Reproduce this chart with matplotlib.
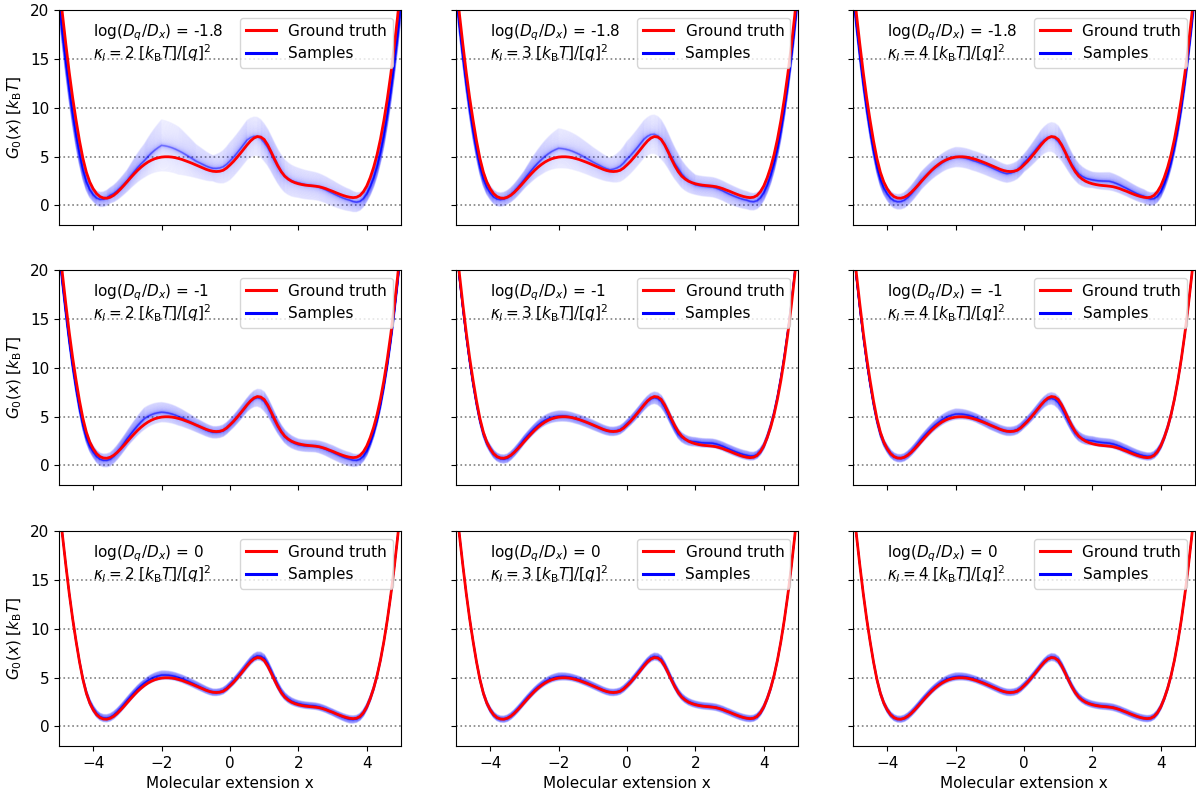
import numpy as np
import matplotlib.pyplot as plt
from matplotlib.lines import Line2D

# Ground truth free energy profile (step 0.1)
x = [-5.0, -4.9, -4.8, -4.7, -4.6, -4.5, -4.4, -4.3, -4.2, -4.1,
     -4.0, -3.9, -3.8, -3.7, -3.6, -3.5, -3.4, -3.3, -3.2, -3.1,
     -3.0, -2.9, -2.8, -2.7, -2.6, -2.5, -2.4, -2.3, -2.2, -2.1,
     -2.0, -1.9, -1.8, -1.7, -1.6, -1.5, -1.4, -1.3, -1.2, -1.1,
     -1.0, -0.9, -0.8, -0.7, -0.6, -0.5, -0.4, -0.3, -0.2, -0.1,
     0.0, 0.1, 0.2, 0.3, 0.4, 0.5, 0.6, 0.7, 0.8, 0.9,
     1.0, 1.1, 1.2, 1.3, 1.4, 1.5, 1.6, 1.7, 1.8, 1.9,
     2.0, 2.1, 2.2, 2.3, 2.4, 2.5, 2.6, 2.7, 2.8, 2.9,
     3.0, 3.1, 3.2, 3.3, 3.4, 3.5, 3.6, 3.7, 3.8, 3.9,
     4.0, 4.1, 4.2, 4.3, 4.4, 4.5, 4.6, 4.7, 4.8, 4.9, 5.0]
g_true = [23.0, 19.6, 16.5, 13.6, 11.0, 8.7, 6.6, 4.8, 3.4, 2.4,
          1.7, 1.2, 0.9, 0.76, 0.74, 0.84, 1.04, 1.33, 1.68, 2.06,
          2.46, 2.86, 3.24, 3.6, 3.92, 4.2, 4.44, 4.63, 4.78, 4.88,
          4.95, 4.98, 4.98, 4.95, 4.89, 4.8, 4.7, 4.57, 4.44, 4.3,
          4.15, 4.0, 3.85, 3.7, 3.58, 3.5, 3.47, 3.5, 3.6, 3.83,
          4.15, 4.5, 4.9, 5.32, 5.76, 6.2, 6.6, 6.9, 7.05, 7.0,
          6.75, 6.2, 5.5, 4.75, 4.05, 3.45, 3.0, 2.7, 2.48, 2.33,
          2.22, 2.14, 2.08, 2.04, 2.01, 1.97, 1.92, 1.83, 1.72, 1.58,
          1.45, 1.3, 1.16, 1.03, 0.92, 0.84, 0.8, 0.84, 1.02, 1.4,
          2.0, 2.85, 3.9, 5.2, 6.8, 8.7, 10.9, 13.4, 16.2, 19.3, 22.7]

log_ratio = ["-1.8", "-1", "0"]
kappa = ["2", "3", "4"]

# Sample bundle: shift from ground truth and half width, per panel
x_band = [-5, -4.5, -4, -3.5, -3, -2.5, -2, -1.5, -1, -0.5, 0,
          0.5, 1, 1.5, 2, 2.5, 3, 3.5, 4, 4.5, 5]

band_shift = [
    [[-2.0, -1.5, -0.6, 0.2, 0.1, 0.4, 1.2, 0.8, 0.4, 0.3, 0.4, 0.5, -0.3, 0.0, 0.1, 0.0, -0.2, -0.3, -0.8, -1.5, -2.0],
     [-1.2, -1.0, -0.4, 0.0, 0.2, 0.5, 0.9, 0.6, 0.3, 0.15, 0.6, 0.6, 0.0, 0.3, -0.1, -0.1, -0.3, -0.3, -0.7, -1.0, -1.2],
     [-1.2, -1.0, -0.5, -0.3, 0.1, -0.1, 0.0, -0.2, -0.2, -0.25, 0.2, 0.2, -0.2, 0.2, 0.4, 0.5, 0.3, 0.1, -0.6, -0.8, -1.0]],
    [[-1.0, -0.8, -0.3, -0.2, 0.3, 0.6, 0.5, 0.2, 0.0, -0.1, 0.0, 0.0, -0.2, 0.0, -0.1, 0.0, -0.1, -0.2, -0.5, -0.6, -0.7],
     [-0.5, -0.4, 0.0, -0.1, 0.2, 0.2, 0.1, 0.0, 0.0, 0.0, 0.1, 0.0, -0.2, -0.2, 0.2, 0.3, 0.2, 0.2, 0.0, 0.3, 0.3],
     [-0.5, -0.4, 0.0, 0.0, 0.2, 0.2, 0.3, 0.2, 0.0, 0.0, 0.1, 0.0, -0.3, -0.1, 0.3, 0.3, 0.2, 0.15, 0.0, 0.0, 0.0]],
    [[0.0, 0.0, 0.1, 0.1, 0.2, 0.25, 0.3, 0.2, 0.1, 0.0, 0.1, 0.1, 0.2, 0.1, 0.1, 0.1, 0.0, -0.1, 0.0, 0.0, 0.0],
     [0.0, 0.0, 0.0, 0.0, 0.1, 0.1, 0.15, 0.1, 0.05, 0.0, 0.05, 0.1, 0.1, 0.05, 0.05, 0.05, 0.0, 0.0, 0.0, 0.0, 0.0],
     [0.0, 0.0, 0.0, 0.0, 0.1, 0.1, 0.15, 0.1, 0.05, 0.0, 0.05, 0.05, 0.05, 0.05, 0.05, 0.05, 0.0, 0.0, 0.0, 0.0, 0.0]],
]
band_width = [
    [[1.5, 1.3, 0.7, 0.8, 1.1, 1.7, 2.6, 2.4, 1.7, 1.3, 1.9, 2.0, 1.9, 1.7, 1.5, 1.4, 1.3, 1.1, 0.8, 1.2, 1.5],
     [1.0, 1.0, 0.7, 0.7, 0.9, 1.5, 2.0, 1.8, 1.5, 1.2, 1.8, 1.9, 2.0, 1.5, 1.0, 1.0, 1.0, 0.9, 0.8, 1.0, 1.0],
     [0.8, 0.8, 0.7, 0.8, 0.9, 0.9, 1.0, 1.0, 1.0, 0.9, 0.9, 1.3, 1.6, 1.1, 0.8, 0.9, 0.8, 0.7, 0.6, 0.8, 0.8]],
    [[0.6, 0.6, 0.6, 0.7, 0.8, 1.1, 1.0, 0.9, 0.7, 0.6, 0.6, 0.7, 1.0, 0.7, 0.6, 0.6, 0.7, 0.7, 0.5, 0.5, 0.5],
     [0.3, 0.3, 0.4, 0.45, 0.45, 0.5, 0.55, 0.5, 0.5, 0.45, 0.45, 0.55, 0.65, 0.5, 0.45, 0.45, 0.45, 0.45, 0.35, 0.3, 0.3],
     [0.3, 0.3, 0.4, 0.4, 0.45, 0.5, 0.55, 0.45, 0.45, 0.45, 0.45, 0.55, 0.65, 0.5, 0.45, 0.45, 0.45, 0.4, 0.35, 0.3, 0.3]],
    [[0.25, 0.25, 0.35, 0.4, 0.4, 0.4, 0.45, 0.4, 0.4, 0.35, 0.35, 0.4, 0.45, 0.4, 0.35, 0.35, 0.35, 0.4, 0.35, 0.25, 0.25],
     [0.25, 0.25, 0.3, 0.35, 0.35, 0.35, 0.4, 0.35, 0.35, 0.35, 0.35, 0.35, 0.4, 0.35, 0.35, 0.35, 0.35, 0.35, 0.3, 0.25, 0.25],
     [0.25, 0.25, 0.3, 0.35, 0.35, 0.35, 0.4, 0.35, 0.35, 0.35, 0.35, 0.35, 0.4, 0.35, 0.35, 0.35, 0.35, 0.35, 0.3, 0.25, 0.25]],
]

plt.rcParams["font.size"] = 11

fig = plt.figure(figsize=(11.96, 7.93), dpi=100)
col_left = [59 / 1196, 456 / 1196, 853 / 1196]
row_bottom = [1 - 225 / 793, 1 - 485 / 793, 1 - 746 / 793]
w, h = 342 / 1196, 215 / 793

xa = np.array(x)
ga = np.array(g_true)
u = np.linspace(-1, 1, 81)
levels = u * np.abs(u)  # more lines near the middle of the bundle

for r in range(3):
    for c in range(3):
        ax = fig.add_axes([col_left[c], row_bottom[r], w, h])
        shift = np.interp(xa, x_band, band_shift[r][c])
        width = np.interp(xa, x_band, band_width[r][c])
        for t in levels:
            ax.plot(xa, ga + shift + t * width, color="blue", alpha=0.06, lw=1)
        ax.plot(xa, ga, color="red", lw=2)
        for yl in [0, 5, 10, 15]:
            ax.axhline(yl, color="gray", ls=":", lw=1.2, zorder=0)
        ax.set_xlim(-5, 5)
        ax.set_ylim(-2, 20)
        ax.set_xticks([-4, -2, 0, 2, 4])
        ax.set_yticks([0, 5, 10, 15, 20])
        if r < 2:
            ax.set_xticklabels([])
        else:
            ax.set_xlabel("Molecular extension x")
        if c > 0:
            ax.set_yticklabels([])
        else:
            ax.set_ylabel(r"$G_0(x)$ $[k_{\rm B}T]$")
        ax.text(0.10, 0.895, r"log$(D_q/D_x)$ = " + log_ratio[r], transform=ax.transAxes,
                va="center", ha="left")
        ax.text(0.10, 0.80, r"$\kappa_l = %s\ [k_{\rm B}T]/[q]^2$" % kappa[c], transform=ax.transAxes,
                va="center", ha="left")
        handles = [Line2D([], [], color="red", lw=2.2), Line2D([], [], color="blue", lw=2.2)]
        ax.legend(handles, ["Ground truth", "Samples"], loc="upper right")

fig.savefig("out.png", dpi=100)
